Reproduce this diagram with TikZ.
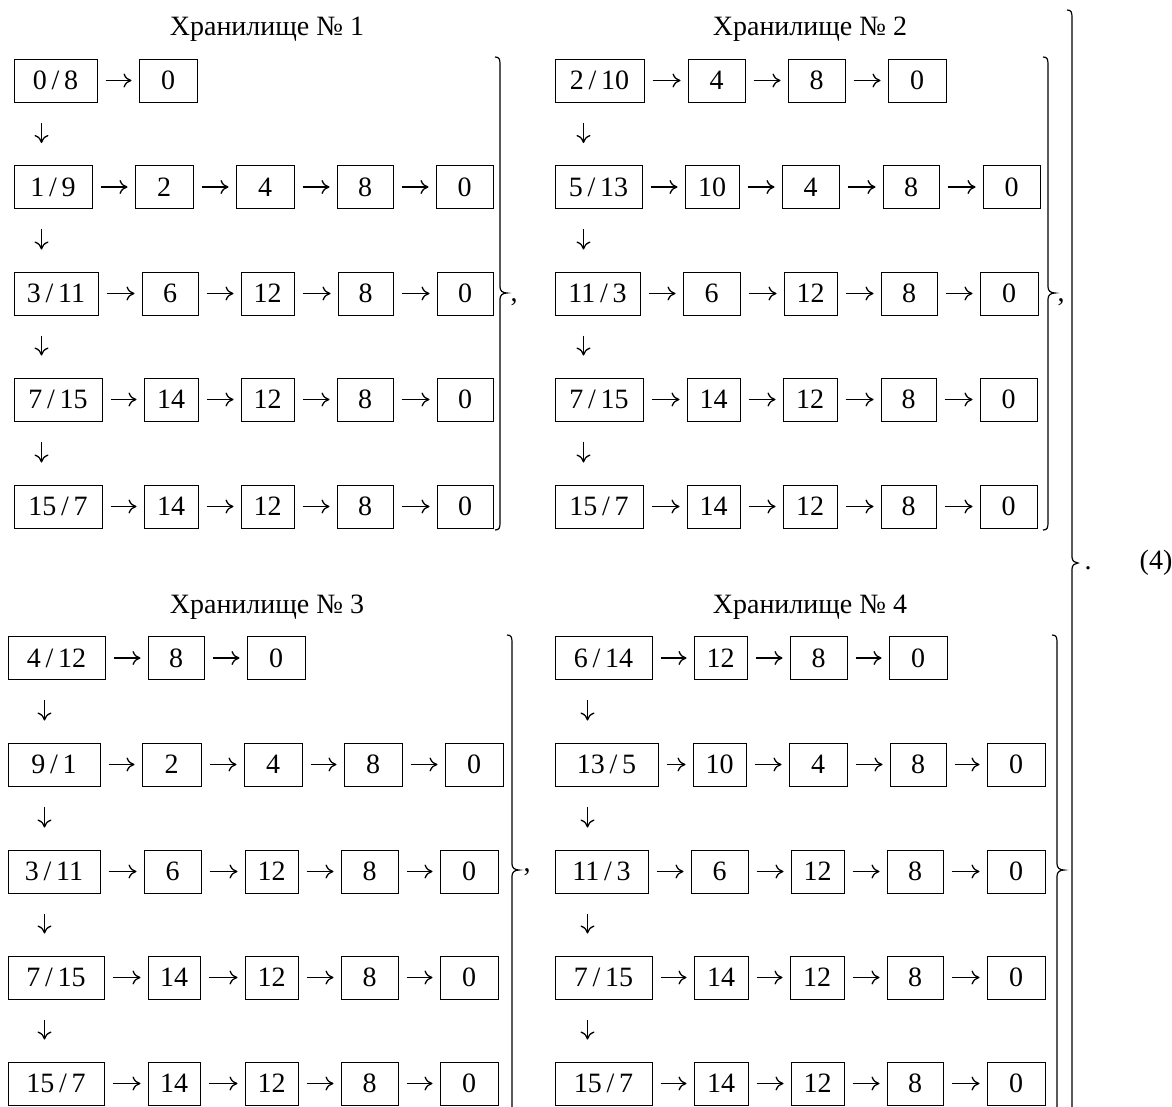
\documentclass[tikz,border=0pt]{standalone}
\usepackage{fontspec}
\setmainfont{Liberation Serif}
\usetikzlibrary{arrows.meta}
\tikzset{
  box/.style={draw, line width=1pt, inner sep=0pt, minimum height=43pt, font=\fontsize{28}{30}\selectfont},
  rarr/.style={-{To[length=8pt,width=14pt]}, line width=1.3pt, shorten <=8pt, shorten >=7pt},
  darr/.style={-{To[length=8pt,width=14pt]}, line width=1.3pt, shorten <=20pt, shorten >=22pt},
  title/.style={anchor=base, inner sep=0pt, font=\fontsize{28}{30}\selectfont},
  brace/.style={line width=1.2pt},
}
\newcommand\bx[5]{\pgfmathsetmacro\bxw{#3-#2}\pgfmathsetmacro\bxc{(#2+#3)/2}\node[box,minimum width=\bxw pt] (#1) at (\bxc,#4) {#5};}
\newcommand\dar[3]{\draw[darr] ([xshift=#3pt]#1.south west) -- ([xshift=#3pt]#2.north west);}
\newcommand\rbr[5]{\draw[brace] (#1-5,#2) .. controls (#1-1,#2) and (#1,#2+2) .. (#1,#2+7) -- (#1,#3-6) .. controls (#1,#3-2) and (#1+3,#3) .. (#1+#5,#3) .. controls (#1+3,#3) and (#1,#3+2) .. (#1,#3+6) -- (#1,#4-7) .. controls (#1,#4-2) and (#1-1,#4) .. (#1-5,#4);}
\newcommand\slsh{\,/\,}
\begin{document}
\begin{tikzpicture}[x=1pt,y=-1pt]
\useasboundingbox (0,0) rectangle (1172,1106);
% ---------- titles
\node[title] (t1) at (267,35) {Хранилище № 1};
\node[title] (t2) at (810,35) {Хранилище № 2};
\node[title] (t3) at (267,613) {Хранилище № 3};
\node[title] (t4) at (810,613) {Хранилище № 4};
% ---------- group 1
\bx{a11}{14}{97}{80.5}{0\slsh8}
\bx{a12}{139}{197}{80.5}{0}
\bx{a21}{14}{92}{187}{1\slsh9}
\bx{a22}{135}{193}{187}{2}
\bx{a23}{236}{294}{187}{4}
\bx{a24}{337}{393}{187}{8}
\bx{a25}{436}{493}{187}{0}
\bx{a31}{14}{98}{293.5}{3\slsh11}
\bx{a32}{142}{198}{293.5}{6}
\bx{a33}{241}{294}{293.5}{12}
\bx{a34}{338}{393}{293.5}{8}
\bx{a35}{437}{493}{293.5}{0}
\bx{a41}{14}{102}{399.5}{7\slsh15}
\bx{a42}{144}{198}{399.5}{14}
\bx{a43}{241}{294}{399.5}{12}
\bx{a44}{337}{393}{399.5}{8}
\bx{a45}{437}{493}{399.5}{0}
\bx{a51}{14}{102}{506.5}{15\slsh7}
\bx{a52}{144}{198}{506.5}{14}
\bx{a53}{241}{294}{506.5}{12}
\bx{a54}{337}{393}{506.5}{8}
\bx{a55}{437}{493}{506.5}{0}
% ---------- group 2
\bx{b11}{555}{644}{80.5}{2\slsh10}
\bx{b12}{688}{745}{80.5}{4}
\bx{b13}{788}{845}{80.5}{8}
\bx{b14}{888}{946}{80.5}{0}
\bx{b21}{555}{642}{187}{5\slsh13}
\bx{b22}{685}{739}{187}{10}
\bx{b23}{782}{839}{187}{4}
\bx{b24}{883}{939}{187}{8}
\bx{b25}{983}{1040}{187}{0}
\bx{b31}{555}{640}{293.5}{11\slsh3}
\bx{b32}{683}{740}{293.5}{6}
\bx{b33}{784}{837}{293.5}{12}
\bx{b34}{881}{937}{293.5}{8}
\bx{b35}{980}{1038}{293.5}{0}
\bx{b41}{555}{643}{399.5}{7\slsh15}
\bx{b42}{687}{740}{399.5}{14}
\bx{b43}{783}{837}{399.5}{12}
\bx{b44}{881}{936}{399.5}{8}
\bx{b45}{980}{1037}{399.5}{0}
\bx{b51}{555}{643}{506.5}{15\slsh7}
\bx{b52}{687}{740}{506.5}{14}
\bx{b53}{783}{837}{506.5}{12}
\bx{b54}{881}{936}{506.5}{8}
\bx{b55}{980}{1037}{506.5}{0}
% ---------- group 3
\bx{c11}{8}{105}{658}{4\slsh12}
\bx{c12}{148}{204}{658}{8}
\bx{c13}{247}{305}{658}{0}
\bx{c21}{8}{100}{764.5}{9\slsh1}
\bx{c22}{142}{201}{764.5}{2}
\bx{c23}{244}{302}{764.5}{4}
\bx{c24}{344}{402}{764.5}{8}
\bx{c25}{445}{503}{764.5}{0}
\bx{c31}{8}{100}{871.5}{3\slsh11}
\bx{c32}{144}{201}{871.5}{6}
\bx{c33}{245}{298}{871.5}{12}
\bx{c34}{341}{398}{871.5}{8}
\bx{c35}{440}{498}{871.5}{0}
\bx{c41}{8}{104}{977.5}{7\slsh15}
\bx{c42}{148}{200}{977.5}{14}
\bx{c43}{245}{298}{977.5}{12}
\bx{c44}{341}{398}{977.5}{8}
\bx{c45}{440}{498}{977.5}{0}
\bx{c51}{8}{104}{1083.5}{15\slsh7}
\bx{c52}{148}{200}{1083.5}{14}
\bx{c53}{245}{298}{1083.5}{12}
\bx{c54}{341}{398}{1083.5}{8}
\bx{c55}{440}{498}{1083.5}{0}
% ---------- group 4
\bx{d11}{555}{652}{658}{6\slsh14}
\bx{d12}{694}{747}{658}{12}
\bx{d13}{790}{847}{658}{8}
\bx{d14}{889}{947}{658}{0}
\bx{d21}{555}{658}{764.5}{13\slsh5}
\bx{d22}{693}{746}{764.5}{10}
\bx{d23}{789}{847}{764.5}{4}
\bx{d24}{890}{946}{764.5}{8}
\bx{d25}{987}{1045}{764.5}{0}
\bx{d31}{555}{648}{871.5}{11\slsh3}
\bx{d32}{691}{748}{871.5}{6}
\bx{d33}{791}{844}{871.5}{12}
\bx{d34}{887}{943}{871.5}{8}
\bx{d35}{987}{1045}{871.5}{0}
\bx{d41}{555}{652}{977.5}{7\slsh15}
\bx{d42}{694}{748}{977.5}{14}
\bx{d43}{790}{844}{977.5}{12}
\bx{d44}{887}{943}{977.5}{8}
\bx{d45}{987}{1045}{977.5}{0}
\bx{d51}{555}{652}{1083.5}{15\slsh7}
\bx{d52}{694}{748}{1083.5}{14}
\bx{d53}{791}{844}{1083.5}{12}
\bx{d54}{887}{943}{1083.5}{8}
\bx{d55}{987}{1045}{1083.5}{0}
% ---------- horizontal arrows
\foreach \g in {a,b,c,d}{
  \foreach \r in {2,3,4,5}{
    \draw[rarr] (\g\r1) -- (\g\r2);
    \draw[rarr] (\g\r2) -- (\g\r3);
    \draw[rarr] (\g\r3) -- (\g\r4);
    \draw[rarr] (\g\r4) -- (\g\r5);
  }
}
\draw[rarr] (a11) -- (a12);
\draw[rarr] (b11) -- (b12);
\draw[rarr] (b12) -- (b13);
\draw[rarr] (b13) -- (b14);
\draw[rarr] (c11) -- (c12);
\draw[rarr] (c12) -- (c13);
\draw[rarr] (d11) -- (d12);
\draw[rarr] (d12) -- (d13);
\draw[rarr] (d13) -- (d14);
% ---------- vertical arrows
\dar{a11}{a21}{28}\dar{a21}{a31}{28}\dar{a31}{a41}{28}\dar{a41}{a51}{28}
\dar{b11}{b21}{29}\dar{b21}{b31}{29}\dar{b31}{b41}{29}\dar{b41}{b51}{29}
\dar{c11}{c21}{37}\dar{c21}{c31}{37}\dar{c31}{c41}{37}\dar{c41}{c51}{37}
\dar{d11}{d21}{33}\dar{d21}{d31}{33}\dar{d31}{d41}{33}\dar{d41}{d51}{33}
% ---------- braces
\rbr{500}{57}{293}{530}{7}
\rbr{1048}{57}{293}{530}{7}
\rbr{512}{635}{870}{1118}{7}
\rbr{1057}{635}{870}{1118}{7}
\rbr{1072}{10}{563}{1125}{6}
% ---------- punctuation and number
\node[title] (p1) at (514,301) {,};
\node[title] (p2) at (1061,301) {,};
\node[title] (p3) at (527,871) {,};
\node[title] (p4) at (1088,569) {.};
\node[title] (eq) at (1156,569) {(4)};
\end{tikzpicture}
\end{document}
